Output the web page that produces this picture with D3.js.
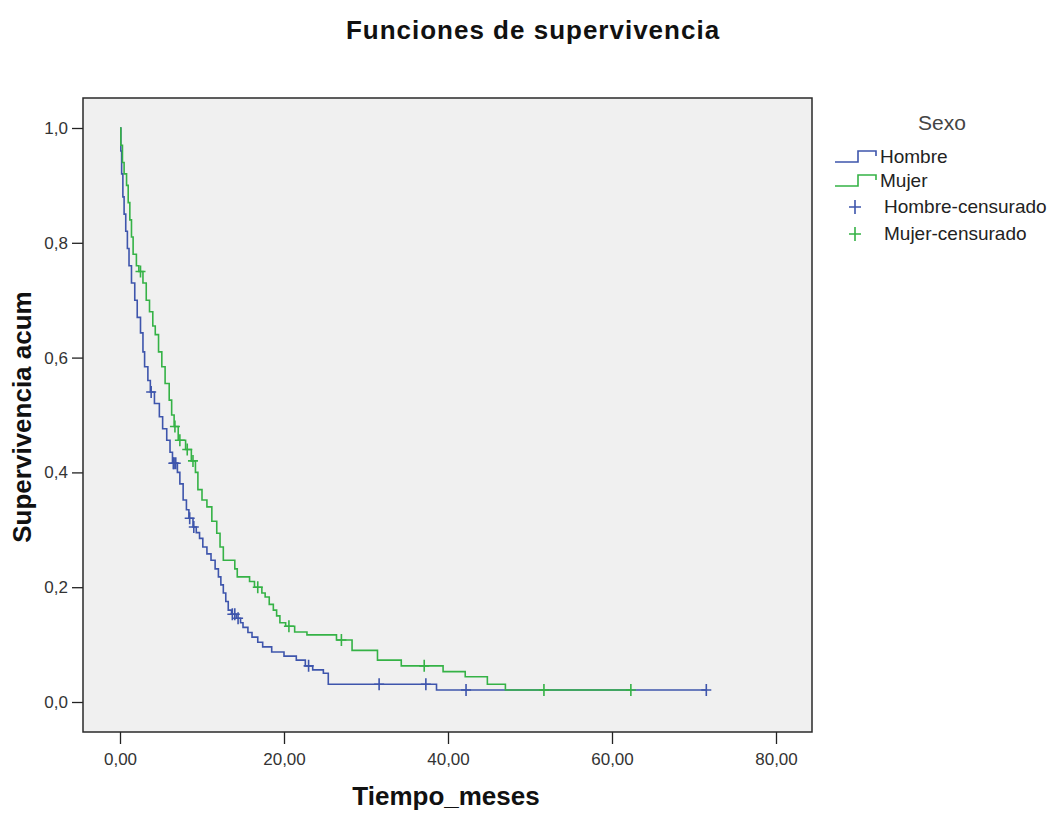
<!DOCTYPE html>
<html>
<head>
<meta charset="utf-8">
<script src="https://cdn.jsdelivr.net/npm/d3@7"></script>
<style>
  body { margin: 0; background: #fff; }
  text { font-family: Arial, "Liberation Sans", sans-serif; }
</style>
</head>
<body>
<div id="chart"></div>
<script>
// Kaplan-Meier data (tiempo en meses, supervivencia acumulada)
var hombreT = [0, 0.1, 0.2, 0.35, 0.5, 0.7, 0.9, 1.1, 1.4, 1.8, 2.1, 2.5, 2.8, 3.0, 3.4, 3.7, 4.2, 4.8, 5.2, 5.7, 6.1, 6.4, 7.0, 7.3, 7.7, 8.1, 8.4, 8.9, 9.3, 9.7, 10.1, 10.6, 11.1, 11.6, 12.0, 12.3, 12.6, 12.9, 13.2, 13.6, 14.2, 14.7, 15.0, 15.6, 16.1, 16.8, 17.4, 18.5, 20.0, 21.5, 22.6, 23.5, 24.8, 25.4, 38.6, 71.5];
var hombreS = [1.0, 0.96, 0.92, 0.88, 0.85, 0.82, 0.79, 0.76, 0.73, 0.70, 0.67, 0.643, 0.61, 0.584, 0.56, 0.54, 0.52, 0.497, 0.476, 0.456, 0.435, 0.416, 0.40, 0.38, 0.352, 0.335, 0.32, 0.305, 0.295, 0.285, 0.27, 0.258, 0.247, 0.232, 0.218, 0.204, 0.19, 0.175, 0.16, 0.153, 0.146, 0.138, 0.13, 0.121, 0.113, 0.104, 0.096, 0.087, 0.08, 0.073, 0.063, 0.056, 0.05, 0.031, 0.021, 0.021];
var hombreCens = [3.8, 6.5, 6.6, 6.8, 8.5, 9.0, 13.7, 14.0, 14.4, 23.0, 31.6, 37.3, 42.2, 71.5];

var mujerT = [0, 0.1, 0.3, 0.5, 0.8, 1.0, 1.2, 1.4, 1.6, 2.0, 2.3, 2.8, 3.2, 3.6, 4.0, 4.3, 4.7, 5.1, 5.5, 6.0, 6.3, 6.6, 7.1, 8.0, 8.7, 9.2, 9.5, 10.0, 10.6, 11.2, 11.8, 12.2, 12.6, 14.0, 14.3, 15.8, 16.4, 17.3, 17.7, 18.2, 18.7, 19.1, 19.5, 20.2, 21.3, 22.8, 26.4, 28.3, 31.4, 34.3, 39.4, 42.1, 44.8, 47.0, 62.3];
var mujerS = [1.0, 0.97, 0.94, 0.92, 0.90, 0.87, 0.84, 0.81, 0.78, 0.76, 0.75, 0.73, 0.70, 0.68, 0.655, 0.64, 0.61, 0.584, 0.555, 0.526, 0.50, 0.48, 0.456, 0.44, 0.42, 0.40, 0.37, 0.352, 0.34, 0.315, 0.294, 0.27, 0.247, 0.232, 0.218, 0.21, 0.20, 0.19, 0.183, 0.17, 0.16, 0.15, 0.138, 0.132, 0.122, 0.117, 0.108, 0.09, 0.073, 0.063, 0.053, 0.044, 0.031, 0.021, 0.021];
var mujerCens = [2.5, 6.7, 7.3, 8.2, 8.9, 16.8, 20.6, 27.0, 37.1, 51.7, 62.3];

var xTicks = [0, 20, 40, 60, 80];
var yTicks = [0, 0.2, 0.4, 0.6, 0.8, 1.0];

var width = 1056, height = 814;
var frame = {left: 83, top: 98, right: 812, bottom: 732};

var svg = d3.select("#chart").append("svg").attr("width", width).attr("height", height);

var x = d3.scaleLinear().domain([0, 80]).range([120, 776]);
var y = d3.scaleLinear().domain([0, 1]).range([702, 128]);

var fmt = function(n, d) { return n.toFixed(d).replace(".", ","); };

svg.append("rect").attr("x", frame.left).attr("y", frame.top)
    .attr("width", frame.right - frame.left).attr("height", frame.bottom - frame.top)
    .attr("fill", "#f0f0f0").attr("stroke", "none");

// axes
var xAxis = svg.append("g").attr("transform", "translate(0," + frame.bottom + ")")
    .call(d3.axisBottom(x).tickValues(xTicks).tickSize(12).tickPadding(9).tickFormat(function(d) { return fmt(d, 2); }));
var yAxis = svg.append("g").attr("transform", "translate(" + frame.left + ",0)")
    .call(d3.axisLeft(y).tickValues(yTicks).tickSize(11).tickPadding(4).tickFormat(function(d) { return fmt(d, 1); }));
[xAxis, yAxis].forEach(function(a) {
    a.select(".domain").remove();
    a.selectAll(".tick line").attr("stroke", "#222").attr("stroke-width", 1.3);
    a.selectAll(".tick text").attr("fill", "#333").style("font-size", "17px")
        .style("font-family", "Arial, 'Liberation Sans', sans-serif");
});

var series = [
    {name: "Hombre", t: hombreT, s: hombreS, cens: hombreCens, color: "#3e55ac"},
    {name: "Mujer", t: mujerT, s: mujerS, cens: mujerCens, color: "#35b246"}
];

var line = d3.line().curve(d3.curveStepAfter)
    .x(function(d) { return x(d[0]); })
    .y(function(d) { return y(d[1]); });

function survAt(sr, t) {
    var i = d3.bisectRight(sr.t, t) - 1;
    return sr.s[Math.max(0, i)];
}

series.forEach(function(sr) {
    var pts = sr.t.map(function(t, i) { return [t, sr.s[i]]; });
    svg.append("path").attr("d", line(pts)).attr("fill", "none")
        .attr("stroke", sr.color).attr("stroke-width", 1.6);
});
series.forEach(function(sr) {
    var g = svg.append("g");
    g.selectAll("path").data(sr.cens).enter().append("path")
        .attr("d", function(t) {
            var cx = x(t), cy = y(survAt(sr, t));
            return "M" + (cx - 5) + "," + cy + "H" + (cx + 5) + "M" + cx + "," + (cy - 6) + "V" + (cy + 6);
        })
        .attr("stroke", sr.color).attr("stroke-width", 1.6).attr("fill", "none");
});

// frame on top
svg.append("rect").attr("x", frame.left).attr("y", frame.top)
    .attr("width", frame.right - frame.left).attr("height", frame.bottom - frame.top)
    .attr("fill", "none").attr("stroke", "#2a2a2a").attr("stroke-width", 1.5);

// titles
svg.append("text").attr("x", 533).attr("y", 39).attr("text-anchor", "middle")
    .style("font-size", "26px").style("font-weight", "bold").style("letter-spacing", "1px").attr("fill", "#111")
    .text("Funciones de supervivencia");
svg.append("text").attr("x", 446).attr("y", 805).attr("text-anchor", "middle")
    .style("font-size", "26px").style("font-weight", "bold").attr("fill", "#111")
    .text("Tiempo_meses");
svg.append("text").attr("transform", "translate(31,417) rotate(-90)").attr("text-anchor", "middle")
    .style("font-size", "26px").style("font-weight", "bold").attr("fill", "#111")
    .text("Supervivencia acum");

// legend
var leg = svg.append("g");
leg.append("text").attr("x", 942).attr("y", 130).attr("text-anchor", "middle")
    .style("font-size", "21px").attr("fill", "#444").text("Sexo");
var items = [
    {label: "Hombre", color: series[0].color, type: "step", y: 157},
    {label: "Mujer", color: series[1].color, type: "step", y: 181},
    {label: "Hombre-censurado", color: series[0].color, type: "cross", y: 207},
    {label: "Mujer-censurado", color: series[1].color, type: "cross", y: 234}
];
items.forEach(function(it) {
    if (it.type == "step") {
        leg.append("path").attr("d", "M835," + (it.y + 5) + "H858V" + (it.y - 6) + "H876V" + (it.y - 1))
            .attr("fill", "none").attr("stroke", it.color).attr("stroke-width", 1.6);
        leg.append("text").attr("x", 880).attr("y", it.y + 6).style("font-size", "19px")
            .attr("fill", "#222").text(it.label);
    } else {
        leg.append("path").attr("d", "M849," + it.y + "H861M855," + (it.y - 7) + "V" + (it.y + 7))
            .attr("fill", "none").attr("stroke", it.color).attr("stroke-width", 1.6);
        leg.append("text").attr("x", 884).attr("y", it.y + 6).style("font-size", "19px")
            .attr("fill", "#222").text(it.label);
    }
});
</script>
</body>
</html>
